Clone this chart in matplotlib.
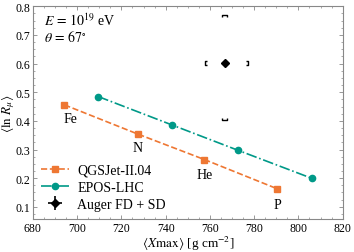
import matplotlib
matplotlib.use("Agg")
import matplotlib.pyplot as plt
from matplotlib.ticker import MultipleLocator

plt.rcParams['font.family'] = ['Liberation Serif', 'DejaVu Serif']
plt.rcParams['mathtext.fontset'] = 'stix'

# Data
qgs_x = [694.2, 727.4, 757.5, 790.4]
qgs_y = [0.456, 0.354, 0.265, 0.163]
qgs_labels = ["Fe", "N", "He", "P"]
epos_x = [709.5, 742.8, 772.8, 806.2]
epos_y = [0.485, 0.386, 0.297, 0.199]
auger_x = 766.6
auger_y = 0.603
auger_stat_x = 0.8
auger_stat_y = 0.008
auger_sys_x = [9.0, 10.8]      # minus, plus
auger_sys_y = [0.199, 0.168]   # minus, plus

orange = '#EE7733'
teal = '#009988'

fig = plt.figure(figsize=(3.54, 2.53), dpi=100)
ax = fig.add_axes([0.093, 0.130, 0.875, 0.841])

ax.plot(qgs_x, qgs_y, ls='--', color=orange, marker='s', ms=4.5, lw=1.2,
        label='QGSJet-II.04')
ax.plot(epos_x, epos_y, ls='-.', color=teal, marker='o', ms=4.5, lw=1.2,
        label='EPOS-LHC')
ax.errorbar([auger_x], [auger_y], xerr=[auger_stat_x], yerr=[auger_stat_y],
            fmt='D', color='black', ms=4, lw=1.2, label='Auger FD + SD')

# systematic brackets
bw = 1.0   # bracket arm in x units
bh = 0.007  # bracket arm in y units
xl = auger_x - auger_sys_x[0]
xr = auger_x + auger_sys_x[1]
yb = auger_y - auger_sys_y[0]
yt = auger_y + auger_sys_y[1]
kw = dict(color='black', lw=1.0, solid_capstyle='butt')
ax.plot([xl + bw, xl, xl, xl + bw], [auger_y + bh, auger_y + bh, auger_y - bh, auger_y - bh], **kw)
ax.plot([xr - bw, xr, xr, xr - bw], [auger_y + bh, auger_y + bh, auger_y - bh, auger_y - bh], **kw)
ax.plot([auger_x - bw, auger_x - bw, auger_x + bw, auger_x + bw], [yt - bh, yt, yt, yt - bh], **kw)
ax.plot([auger_x - bw, auger_x - bw, auger_x + bw, auger_x + bw], [yb + bh, yb, yb, yb + bh], **kw)

label_offsets = [(4.5, -5), (0, -5), (0.5, -6), (0, -6.5)]
for x, y, t, off in zip(qgs_x, qgs_y, qgs_labels, label_offsets):
    ax.annotate(t, (x, y), xytext=off, textcoords='offset points',
                ha='center', va='top', fontsize=10)

ax.text(0.035, 0.975, r'$E\,=\,10^{19}$ eV', transform=ax.transAxes,
        ha='left', va='top', fontsize=10)
ax.text(0.035, 0.895, r'$\theta\,=\,67^{\circ}$', transform=ax.transAxes,
        ha='left', va='top', fontsize=10)

ax.set_xlim(680, 820)
ax.set_ylim(0.057, 0.8)
ax.xaxis.set_major_locator(MultipleLocator(20))
ax.xaxis.set_minor_locator(MultipleLocator(5))
ax.yaxis.set_major_locator(MultipleLocator(0.1))
ax.yaxis.set_minor_locator(MultipleLocator(0.025))
ax.tick_params(which='both', direction='in', top=True, right=True, labelsize=8.5,
               color='#888888')
ax.tick_params(which='major', length=3, width=0.6, pad=2)
ax.tick_params(which='minor', length=1.5, width=0.5)
for s in ax.spines.values():
    s.set_color('#888888')
    s.set_linewidth(0.8)

ax.set_xlabel(r'$\langle X\mathrm{max}\rangle$ [g cm$^{-2}$]', fontsize=9.5, labelpad=0)
ax.set_ylabel(r'$\langle \ln\,R_\mu\rangle$', fontsize=9.5, labelpad=-1)

ax.legend(loc='lower left', frameon=False, fontsize=10, handlelength=2.0,
          borderaxespad=0.2, labelspacing=0.3, handletextpad=0.6)

fig.savefig('out.png', dpi=100)
